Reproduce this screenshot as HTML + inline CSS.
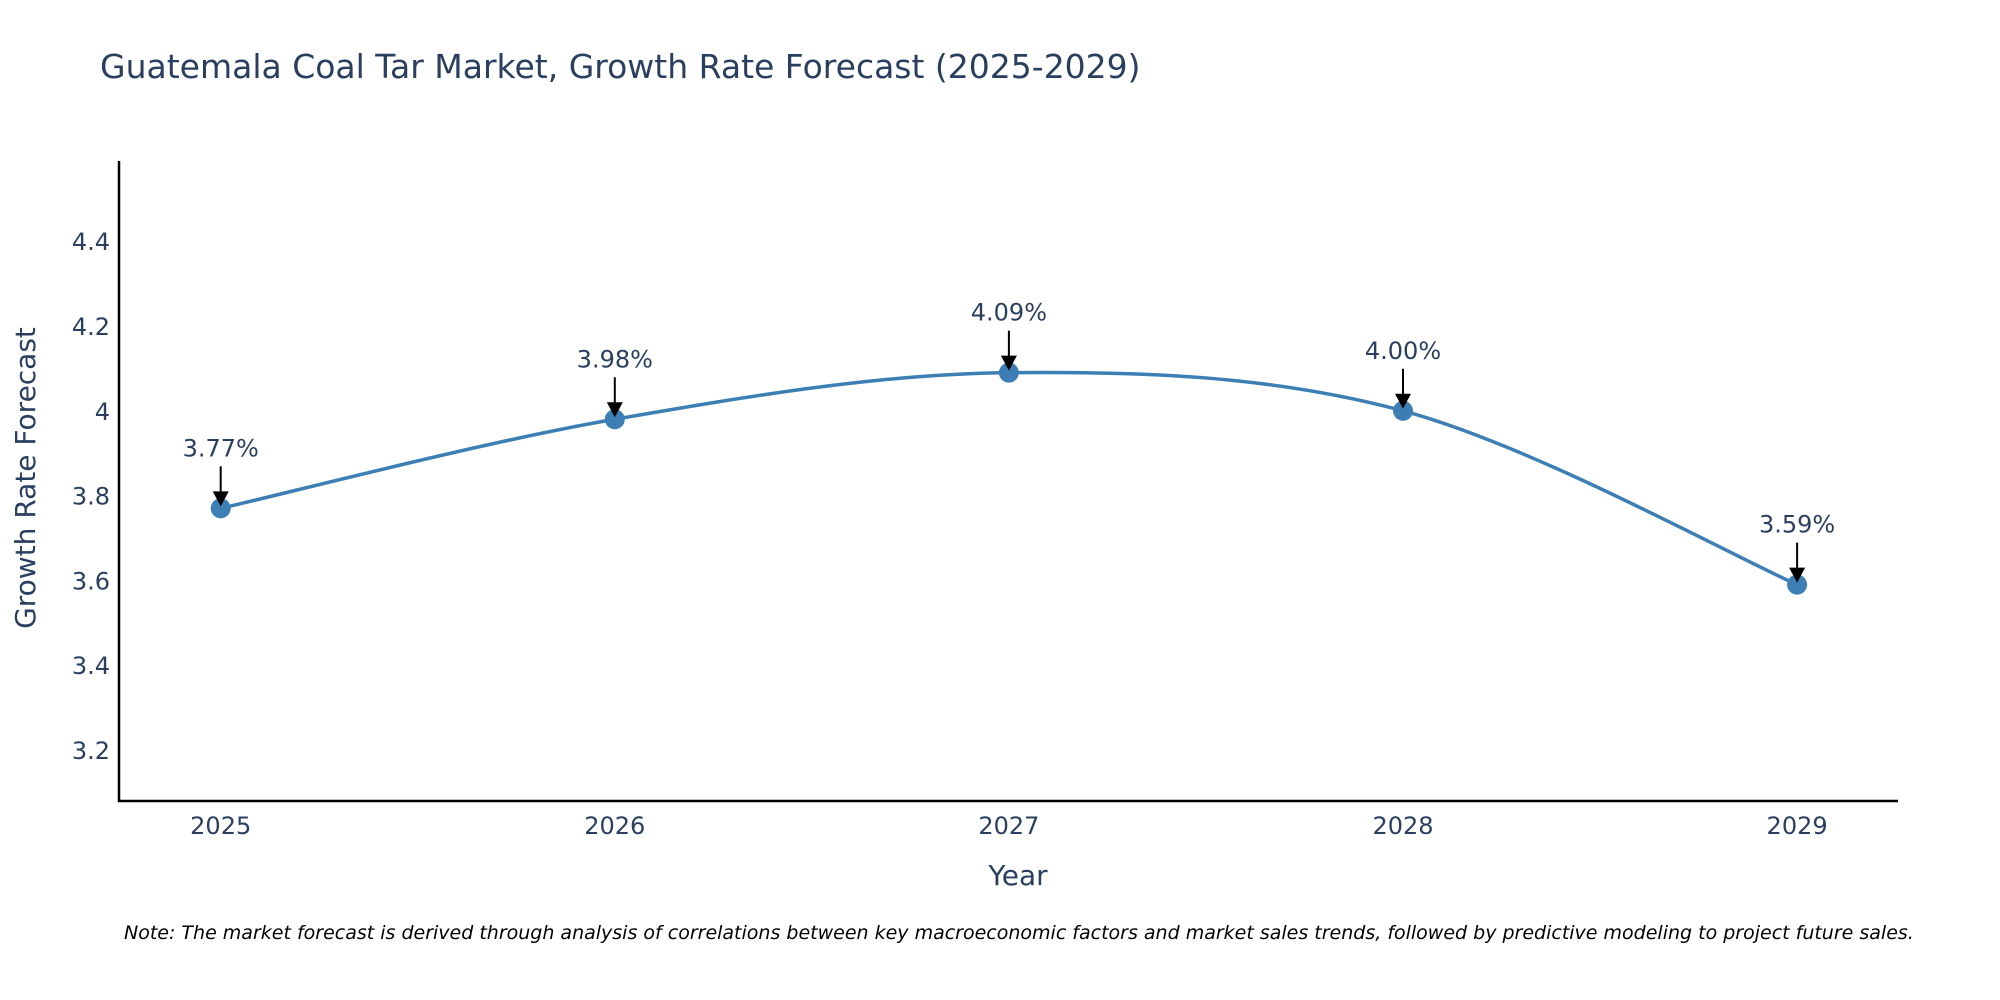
<!DOCTYPE html>
<html><head><meta charset="utf-8"><style>
html,body{margin:0;padding:0;background:#fff;width:2000px;height:1000px;overflow:hidden}
text{font-family:"DejaVu Sans","Liberation Sans",sans-serif}
</style></head><body>
<svg id="chart" width="2000" height="1000" xmlns="http://www.w3.org/2000/svg">
<defs><marker id="ah" viewBox="0 0 10 10" refX="10" refY="5" markerWidth="8" markerHeight="8" markerUnits="userSpaceOnUse" orient="auto"><path d="M0,0L10,5L0,10z" fill="#000"/></marker>
<marker id="ah2" viewBox="0 0 10 10" refX="10" refY="5" markerWidth="7" markerHeight="7" orient="auto"><path d="M0,0L10,5L0,10z" fill="#000"/></marker></defs>
<text x="100" y="78" font-size="33" fill="#2a3f5f">Guatemala Coal Tar Market, Growth Rate Forecast (2025-2029)</text>
<g id="yticks"></g><g id="xticks"></g>
<line x1="119" y1="161" x2="119" y2="802" stroke="#000" stroke-width="2.5"/>
<line x1="118" y1="801" x2="1898" y2="801" stroke="#000" stroke-width="2.5"/>
<path id="line" fill="none" stroke="#3d7fb4" stroke-width="3.5"/>
<g id="marks"></g>
<text x="1018" y="885" font-size="28" fill="#2a3f5f" text-anchor="middle">Year</text>
<text transform="translate(35,478) rotate(-90)" font-size="28" fill="#2a3f5f" text-anchor="middle">Growth Rate Forecast</text>
<text x="124" y="939" font-size="19" font-style="italic" fill="#000">Note: The market forecast is derived through analysis of correlations between key macroeconomic factors and market sales trends, followed by predictive modeling to project future sales.</text>
</svg>
<script>
const years = ["2025","2026","2027","2028","2029"];
const values = [3.77, 3.98, 4.09, 4.00, 3.59];
const labels = ["3.77%","3.98%","4.09%","4.00%","3.59%"];
const yTickVals = [3.2,3.4,3.6,3.8,4,4.2,4.4];
const yTickLabels = ["3.2","3.4","3.6","3.8","4","4.2","4.4"];
const NS="http://www.w3.org/2000/svg";
function X(i){return 220.7+i*394.1;}
function Y(v){return 750-(v-3.2)/0.2*84.8;}
function mk(tag,attrs,parent,txt){const e=document.createElementNS(NS,tag);for(const k in attrs)e.setAttribute(k,attrs[k]);if(txt!==undefined)e.textContent=txt;parent.appendChild(e);return e;}
const yt=document.getElementById('yticks');
yTickVals.forEach((v,i)=>{const t=mk('text',{x:110,y:Y(v)+9,'font-size':24,fill:'#2a3f5f','text-anchor':'end'},yt,yTickLabels[i]);

});
const xt=document.getElementById('xticks');
years.forEach((y,i)=>{const t=mk('text',{x:X(i),y:834,'font-size':24,fill:'#2a3f5f','text-anchor':'middle'},xt,y);

});
const pts=values.map((v,i)=>[X(i),Y(v)]);
let d=`M${pts[0][0]},${pts[0][1]}`;
for(let i=0;i<pts.length-1;i++){const p0=pts[Math.max(0,i-1)],p1=pts[i],p2=pts[i+1],p3=pts[Math.min(pts.length-1,i+2)];const k=1/6;
d+=` C${p1[0]+(p2[0]-p0[0])*k},${p1[1]+(p2[1]-p0[1])*k} ${p2[0]-(p3[0]-p1[0])*k},${p2[1]-(p3[1]-p1[1])*k} ${p2[0]},${p2[1]}`;}
document.getElementById('line').setAttribute('d',d);
const g=document.getElementById('marks');
pts.forEach((p,i)=>{
const c=mk('circle',{cx:p[0],cy:p[1],r:10,fill:'#3d7fb4'},g);


const a=mk('line',{x1:p[0],y1:p[1]-42,x2:p[0],y2:p[1]-16,stroke:'#000','stroke-width':2},g);


const h=mk('path',{d:`M${p[0]-8},${p[1]-17}L${p[0]+8},${p[1]-17}L${p[0]},${p[1]-2}z`,fill:'#000'},g);


const t=mk('text',{x:p[0],y:p[1]-52,'font-size':24,fill:'#2a3f5f','text-anchor':'middle'},g,labels[i]);


});
</script>
</body></html>
